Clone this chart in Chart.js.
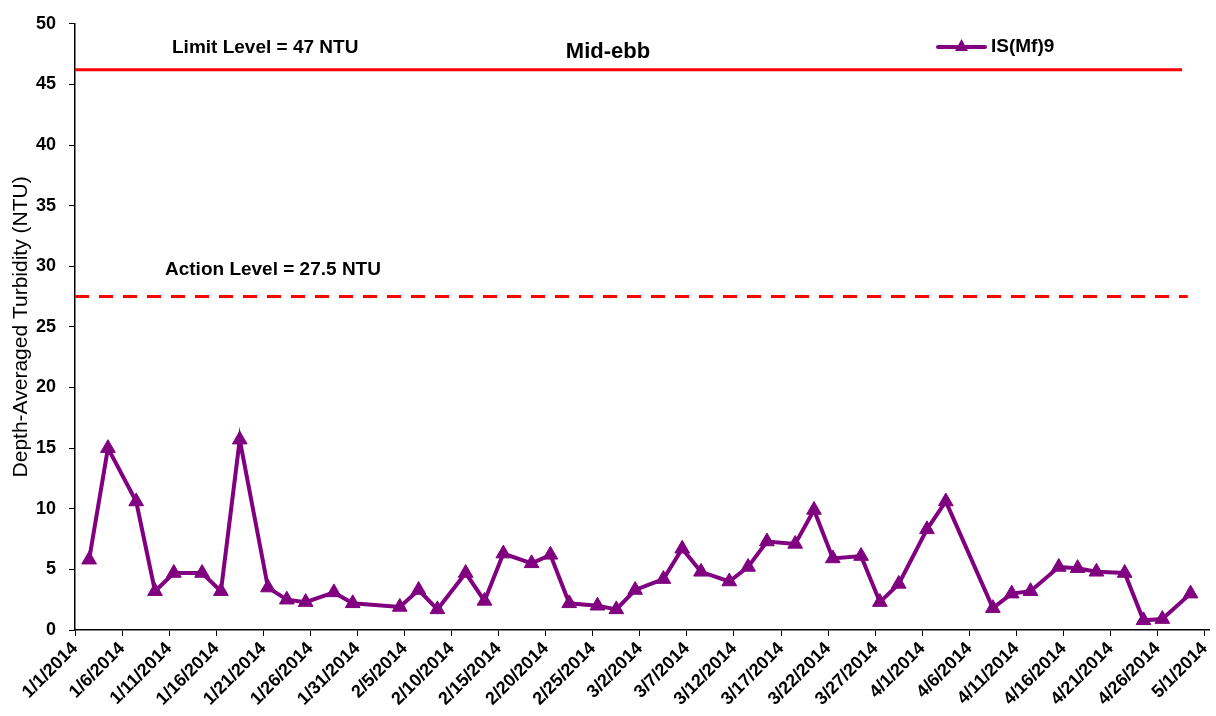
<!DOCTYPE html>
<html><head><meta charset="utf-8">
<script src="https://cdn.jsdelivr.net/npm/chart.js@4/dist/chart.umd.min.js"></script>
<style>html,body{margin:0;padding:0;background:#fff;overflow:hidden}#wrap{width:1216px;height:716px;position:relative;overflow:hidden}</style>
</head><body><div id="wrap"><canvas id="c" width="1222" height="716"></canvas></div>
<script>
// ---- data ----
const sampleDates = ['1/2/2014','1/4/2014','1/7/2014','1/9/2014','1/11/2014','1/14/2014','1/16/2014','1/18/2014',
  '1/21/2014','1/23/2014','1/25/2014','1/28/2014','1/30/2014','2/4/2014','2/6/2014','2/8/2014','2/11/2014',
  '2/13/2014','2/15/2014','2/18/2014','2/20/2014','2/22/2014','2/25/2014','2/27/2014','3/1/2014','3/4/2014',
  '3/6/2014','3/8/2014','3/11/2014','3/13/2014','3/15/2014','3/18/2014','3/20/2014','3/22/2014','3/25/2014',
  '3/27/2014','3/29/2014','4/1/2014','4/3/2014','4/8/2014','4/10/2014','4/12/2014','4/15/2014','4/17/2014',
  '4/19/2014','4/22/2014','4/24/2014','4/26/2014','4/29/2014'];
const turbidity = [5.8,15.0,10.6,3.2,4.7,4.7,3.2,15.7,
  3.5,2.5,2.3,3.1,2.2,1.9,3.3,1.7,4.7,
  2.4,6.3,5.5,6.2,2.2,2.0,1.7,3.3,4.2,
  6.7,4.8,4.0,5.2,7.3,7.1,9.9,5.9,6.1,
  2.3,3.8,8.3,10.6,1.8,3.0,3.2,5.2,5.1,
  4.8,4.7,0.8,0.9,3.0];
const tickLabels = ['1/1/2014','1/6/2014','1/11/2014','1/16/2014','1/21/2014','1/26/2014','1/31/2014','2/5/2014',
  '2/10/2014','2/15/2014','2/20/2014','2/25/2014','3/2/2014','3/7/2014','3/12/2014','3/17/2014','3/22/2014',
  '3/27/2014','4/1/2014','4/6/2014','4/11/2014','4/16/2014','4/21/2014','4/26/2014','5/1/2014'];
const yTicks = [0,5,10,15,20,25,30,35,40,45,50];
const limitLevel = [46.2, 46.2];
const limitDays = [-0.5, 117.1];
const actionLevel = [27.5, 27.5];
const actionDays = [-0.5, 117.7];
const seriesName = 'IS(Mf)9';
const chartTitle = 'Mid-ebb';
const limitText = 'Limit Level = 47 NTU';
const actionText = 'Action Level = 27.5 NTU';
const yTitle = 'Depth-Averaged Turbidity (NTU)';

// ---- helpers ----
function dayIndex(s){
  const [m,d,y] = s.split('/').map(Number);
  return (Date.UTC(y,m-1,d) - Date.UTC(2014,0,1)) / 86400000;
}
const seriesPts = sampleDates.map((s,i)=>({x: dayIndex(s), y: turbidity[i]}));
const limitPts = limitDays.map((x,i)=>({x, y: limitLevel[i]}));
const actionPts = actionDays.map((x,i)=>({x, y: actionLevel[i]}));

const FONT = '"Liberation Sans", Arial, sans-serif';
const PURPLE = '#800080';

const overlay = {
  id: 'overlay',
  afterDatasetsDraw(chart){
    const ctx = chart.ctx;
    ctx.save();
    ctx.fillStyle = '#000';
    ctx.textBaseline = 'middle';
    ctx.textAlign = 'left';
    ctx.font = 'bold 19px ' + FONT;
    ctx.fillText(limitText, 172, 48);
    ctx.fillText(actionText, 165, 270);
    ctx.font = 'bold 22px ' + FONT;
    ctx.textAlign = 'center';
    ctx.fillText(chartTitle, 608, 52);
    // legend
    ctx.strokeStyle = PURPLE; ctx.lineWidth = 4; ctx.lineCap = 'round';
    ctx.beginPath(); ctx.moveTo(938, 47); ctx.lineTo(985, 47); ctx.stroke();
    ctx.fillStyle = PURPLE;
    ctx.beginPath(); ctx.moveTo(961.5, 39); ctx.lineTo(968, 51); ctx.lineTo(955, 51); ctx.closePath(); ctx.fill();
    ctx.fillStyle = '#000';
    ctx.textAlign = 'left';
    ctx.font = 'bold 19px ' + FONT;
    ctx.fillText(seriesName, 991, 47);
    ctx.restore();
  }
};

new Chart(document.getElementById('c'), {
  type: 'line',
  data: {
    datasets: [
      { label: 'limit', data: limitPts, borderColor: '#FF0000', borderWidth: 3, pointRadius: 0, fill: false },
      { label: 'action', data: actionPts, borderColor: '#FF0000', borderWidth: 3, borderDash: [14,10], pointRadius: 0, fill: false },
      { label: seriesName, data: seriesPts, borderColor: PURPLE, backgroundColor: PURPLE, borderWidth: 4,
        pointStyle: 'triangle', pointRadius: 8.5, pointBorderWidth: 1, pointBorderColor: PURPLE, pointBackgroundColor: PURPLE,
        tension: 0, fill: false }
    ]
  },
  options: {
    responsive: false, devicePixelRatio: 1, animation: false,
    layout: { padding: { left: 0, right: 0, top: 21, bottom: 0 } },
    plugins: { legend: { display: false }, tooltip: { enabled: false } },
    scales: {
      x: {
        type: 'linear', min: -0.5, max: 120,
        afterBuildTicks: s => { s.ticks = tickLabels.map((l,i)=>({ value: -0.5 + 5*i })); },
        afterFit: s => { s.height = 86; },
        grid: { display: true, drawOnChartArea: false, drawTicks: true, tickLength: 6, color: '#000', lineWidth: 1 },
        border: { display: true, color: '#000', width: 1.5 },
        ticks: { autoSkip: false, maxRotation: 45, minRotation: 45, padding: 2, color: '#000',
          font: { family: FONT, size: 18, weight: 'bold' },
          callback: (v, i) => tickLabels[i] }
      },
      y: {
        min: 0, max: 50,
        afterBuildTicks: s => { s.ticks = yTicks.map(v=>({ value: v })); },
        afterFit: s => { s.width = 75; },
        grid: { display: true, drawOnChartArea: false, drawTicks: true, tickLength: 6, color: '#000', lineWidth: 1 },
        border: { display: true, color: '#000', width: 1.5 },
        ticks: { padding: 13, color: '#000', font: { family: FONT, size: 18, weight: 'bold' } },
        title: { display: true, text: yTitle, color: '#000', padding: { top: 9, bottom: 0 },
          font: { family: FONT, size: 21, weight: 'normal' } }
      }
    }
  },
  plugins: [overlay]
});
</script></body></html>
